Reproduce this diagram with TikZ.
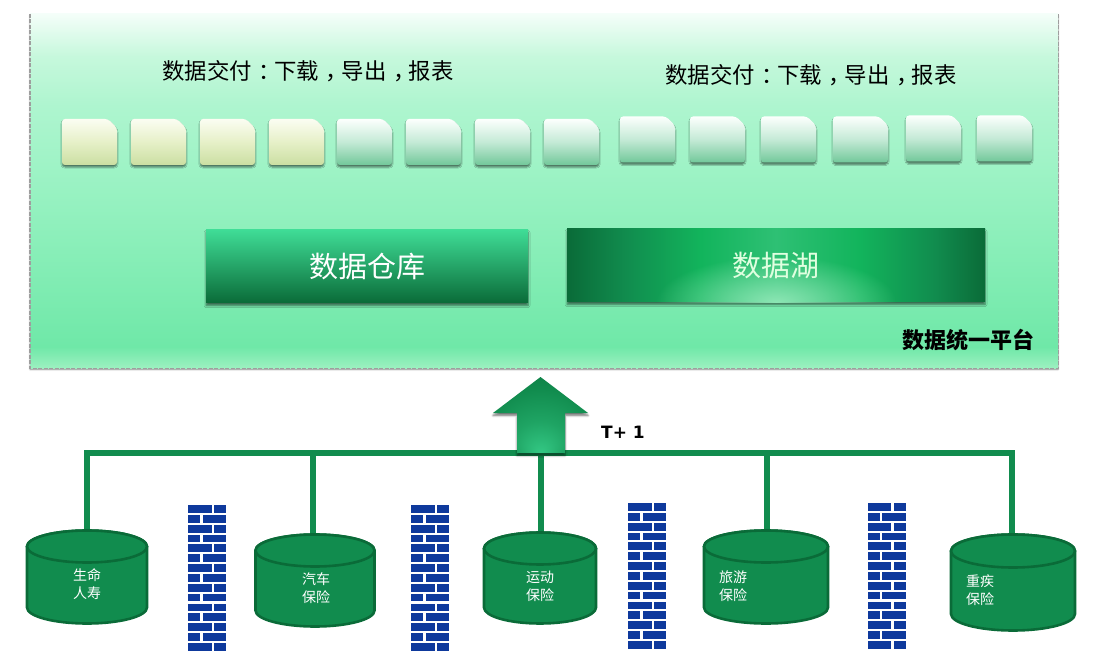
\documentclass[tikz,border=0pt]{standalone}
\usepackage{fontspec}
\setmainfont{Noto Sans CJK SC}
\newfontfamily\latinb{DejaVu Sans}
\usetikzlibrary{shapes.geometric,shadows,shadows.blur,fadings}
\definecolor{pA}{HTML}{F4FEF9}
\definecolor{pB}{HTML}{C6F8DC}
\definecolor{pB2}{HTML}{AEF5CF}
\definecolor{pC}{HTML}{98F2C2}
\definecolor{pD}{HTML}{6FE8A8}
\definecolor{pE}{HTML}{9CF0C0}
\definecolor{gM}{HTML}{118C4E}
\definecolor{gD}{HTML}{0A6B38}
\definecolor{gL}{HTML}{3FDC96}
\definecolor{gB}{HTML}{12B45C}
\definecolor{gC}{HTML}{2EC074}
\definecolor{glow}{HTML}{8CE6B4}
\definecolor{brick}{HTML}{0E399C}
\definecolor{tYt}{HTML}{FBFDF2}
\definecolor{tYb}{HTML}{CBDFA2}
\definecolor{tGt}{HTML}{FCFFFD}
\definecolor{tGm}{HTML}{C4EAD6}
\definecolor{tGb}{HTML}{72C89A}
\definecolor{tYm}{HTML}{E6F0C8}
\pgfdeclareverticalshading{panelshade}{100bp}{color(0bp)=(pE);color(25bp)=(pE);color(28bp)=(pD);color(50bp)=(pC);color(62bp)=(pB2);color(69bp)=(pB);color(75bp)=(pA);color(100bp)=(pA)}
\pgfdeclarehorizontalshading{lakeshade}{100bp}{color(0bp)=(gD);color(25bp)=(gD);color(32bp)=(gM);color(41bp)=(gB);color(50bp)=(gC);color(60bp)=(gB);color(69bp)=(gM);color(75bp)=(gD);color(100bp)=(gD)}
\pgfdeclareverticalshading{tileYs}{100bp}{color(0bp)=(tYb);color(25bp)=(tYb);color(50bp)=(tYm);color(75bp)=(tYt);color(100bp)=(tYt)}
\pgfdeclareverticalshading{tileGs}{100bp}{color(0bp)=(tGb);color(25bp)=(tGb);color(50bp)=(tGm);color(75bp)=(tGt);color(100bp)=(tGt)}
\pgfdeclareradialshading{arrowshade}{\pgfpoint{0bp}{-25bp}}{color(0bp)=(gL!75!gM);color(14bp)=(gM!70!gL);color(28bp)=(gM);color(50bp)=(gD)}
\tikzfading[name=glowfade,inner color=transparent!0,outer color=transparent!100]
\tikzset{
  softshadow/.style={blur shadow={shadow xshift=0pt,shadow yshift=-2.5pt,shadow blur radius=2pt,shadow blur steps=5,shadow opacity=55}},
  tileshadow/.style={blur shadow={shadow xshift=0pt,shadow yshift=-2pt,shadow blur radius=1.2pt,shadow blur steps=4,shadow opacity=50}},
  panelbox/.style={shading=panelshade,minimum width=1028pt,minimum height=354pt,inner sep=0pt,blur shadow={shadow xshift=0pt,shadow yshift=-1.5pt,shadow blur radius=1.5pt,shadow blur steps=4,shadow opacity=50}},
  paneledge/.style={draw=black!38,dashed,dash pattern=on 4pt off 1.5pt,line width=1.4pt},
  store/.style={inner sep=0pt,font=\fontsize{29}{33}\selectfont,softshadow},
  title/.style={inner sep=0pt,font=\fontsize{22.4}{27}\selectfont,text=black},
  dbbody/.style={draw=gD,line width=2.6pt,fill=gM},
  dblabel/.style={inner sep=0pt,text=white,align=center,font=\fontsize{14}{18}\selectfont},
  bus/.style={draw=gM,line width=5.6pt},
}
\newcommand{\pc}[1]{\makebox[1em][c]{\kern.3em #1\kern-.3em}}
% name, centre x, top y, x radius, height, y radius
\newcommand{\dbcyl}[6]{%
  \coordinate (#1) at (#2,#3);
  \draw[dbbody] (#2-#4,#3+#6) -- (#2-#4,#3+#5-#6) arc[start angle=180,end angle=360,x radius=#4pt,y radius=#6pt] -- (#2+#4,#3+#6) arc[start angle=0,end angle=180,x radius=#4pt,y radius=#6pt] -- cycle;
  \draw[dbbody] (#2,#3+#6) ellipse[x radius=#4pt,y radius=#6pt];
}
\newcommand{\tile}[5]{% name, left, top, style shade, width
  \path[shading=#4,tileshadow,rounded corners=3pt] (#2,#3+20) -- (#2,#3) -- (#2+#5-9,#3) -- (#2+#5,#3+9) -- (#2+#5,#3+46) -- (#2,#3+46) -- cycle;
  \coordinate (#1) at (#2,#3);
}
\newcommand{\brickwall}[2]{%
  \foreach \r in {0,...,14}{%
    \pgfmathsetmacro{\yy}{#2+\r*9.85}%
    \pgfmathtruncatemacro{\odd}{mod(\r,2)}%
    \ifnum\odd=0
      \fill[brick] (#1,\yy) rectangle ++(23.5,7.8);
      \fill[brick] (#1+26,\yy) rectangle ++(12,7.8);
    \else
      \fill[brick] (#1,\yy) rectangle ++(12,7.8);
      \fill[brick] (#1+14.5,\yy) rectangle ++(23.5,7.8);
    \fi
  }%
}
\begin{document}
\begin{tikzpicture}[x=1pt,y=-1pt]
\useasboundingbox (0,0) rectangle (1096,663);
\node[panelbox] (panel) at (544,191) {};
\draw[paneledge] (panel.north west) -- (panel.south west) -- (panel.south east) -- (panel.north east);
\node[title] (t1) at (308,71) {数据交付\pc{：}下载\pc{，}导出\pc{，}报表};
\node[title] (t2) at (811,75) {数据交付\pc{：}下载\pc{，}导出\pc{，}报表};
\foreach \n/\x/\y in {a/62/119,b/131/119,c/200/119,d/269/119}
  {\tile{tile\n}{\x}{\y}{tileYs}{55}}
\foreach \n/\x/\y in {e/337/119,f/406/119,g/475/119,h/544/119,i/620/116.5,j/690/116.5,k/761/116.5,l/833/116.5,m/906/115.5,n/977/115.5}
  {\tile{tile\n}{\x}{\y}{tileGs}{55}}
\node[store,text=white,top color=gL,bottom color=gD,minimum width=322pt,minimum height=73pt] (dw) at (367,266.5) {数据仓库};
\node[store,shading=lakeshade,minimum width=418pt,minimum height=73pt] (dl) at (776,265.5) {};
\begin{scope}
\clip (dl.south west) rectangle (dl.north east);
\fill[glow,path fading=glowfade,fit fading=true] (776,302) ellipse[x radius=120pt,y radius=46pt];
\end{scope}
\node[inner sep=0pt,text=white!88!green,font=\fontsize{29}{33}\selectfont] (dltext) at (dl) {数据湖};
\node[inner sep=0pt,font=\fontsize{22}{26}\selectfont\bfseries] (plat) at (968,340) {数据统一平台};
% bus and stems
\coordinate (b1) at (87,453);
\coordinate (b2) at (313,453);
\coordinate (b3) at (541,453);
\coordinate (b4) at (767,453);
\coordinate (b5) at (1012,453);
\coordinate (c1top) at (87,530);
\coordinate (c2top) at (313,534);
\coordinate (c3top) at (541,532);
\coordinate (c4top) at (767,530);
\coordinate (c5top) at (1012,534);
\draw[bus] ([xshift=-2.8pt]b1) -- ([xshift=2.8pt]b5);
\foreach \k in {1,...,5} \draw[bus] (b\k) -- (c\k top);
% databases
\dbcyl{c1}{87}{530.5}{60}{93}{16}
\dbcyl{c2}{315}{534.5}{59.5}{92}{16}
\dbcyl{c3}{540}{532.5}{56}{91}{16}
\dbcyl{c4}{766}{530.5}{62}{93}{16}
\dbcyl{c5}{1013}{534.5}{62}{96}{16.5}
\node[dblabel] (l1) at (87,584) {生命\\人寿};
\node[dblabel] (l2) at (316,588) {汽车\\保险};
\node[dblabel] (l3) at (540,586) {运动\\保险};
\node[dblabel] (l4) at (733,586) {旅游\\保险};
\node[dblabel] (l5) at (980,590) {重疾\\保险};
% up arrow
\path[shading=arrowshade,softshadow] (540.5,377) -- (588,413) -- (565,413) -- (565,453) -- (517,453) -- (517,413) -- (493,413) -- cycle;
\node[inner sep=0pt,font=\latinb\fontsize{17}{22}\selectfont\bfseries] (tp) at (623,432) {T+ 1};
\brickwall{188}{505}
\brickwall{411}{505}
\brickwall{628}{503}
\brickwall{867.5}{503}
\end{tikzpicture}
\end{document}
